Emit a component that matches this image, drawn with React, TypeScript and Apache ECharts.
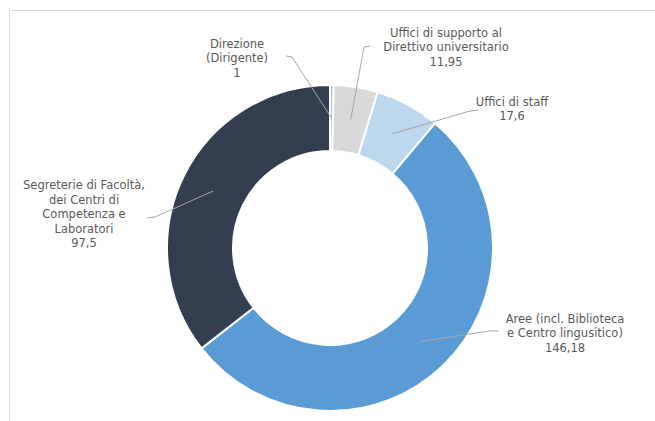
import React, { useEffect, useRef } from "react";
import * as echarts from "echarts";

const categories = [
  "Direzione\n(Dirigente)",
  "Uffici di supporto al\nDirettivo universitario",
  "Uffici di staff",
  "Aree (incl. Biblioteca\ne Centro lingusitico)",
  "Segreterie di Facoltà,\ndei Centri di\nCompetenza e\nLaboratori",
];
const values = [1, 11.95, 17.6, 146.18, 97.5];
const valueLabels = ["1", "11,95", "17,6", "146,18", "97,5"];
const colors = ["#9dc3e6", "#d9d9d9", "#bdd7ee", "#5b9bd5", "#333f50"];

// label placement (layout only)
const labelPos: [number, number][] = [
  [237, 58],
  [446, 47],
  [512, 109],
  [565, 333],
  [84, 214],
];
const lineStart: [number, number][] = [
  [286, 56],
  [370, 46],
  [478, 110],
  [498, 331],
  [147, 218],
];
const lineKnee: [number, number][] = [
  [292, 57],
  [364, 47],
  [470, 111],
  [489, 331],
  [155, 217],
];

const CX = 330;
const CY = 248;
const R_IN = 97;
const R_OUT = 163;

export default function App() {
  const ref = useRef<HTMLDivElement>(null);
  useEffect(() => {
    if (!ref.current) return;
    const chart = echarts.init(ref.current, null, { renderer: "svg" });
    const total = values.reduce((a, b) => a + b, 0);
    const anchors: [number, number][] = [];
    let cum = 0;
    values.forEach((v) => {
      const mid = ((cum + v / 2) / total) * Math.PI * 2;
      cum += v;
      const r = (R_IN + R_OUT) / 2;
      anchors.push([CX + r * Math.sin(mid), CY - r * Math.cos(mid)]);
    });
    const leaders = values.map((_, i) => ({
      type: "polyline",
      z: 100,
      silent: true,
      shape: { points: [lineStart[i], lineKnee[i], anchors[i]] },
      style: { fill: "none", stroke: "#a6a6a6", lineWidth: 1 },
    }));
    chart.setOption({
      animation: false,
      backgroundColor: "#ffffff",
      graphic: [
        {
          type: "rect",
          shape: { x: 9.5, y: 10.5, width: 700, height: 500 },
          style: { fill: "none", stroke: "#d9d9d9", lineWidth: 1 },
          silent: true,
        },
        ...leaders,
      ],
      series: [
        {
          type: "pie",
          center: [CX, CY],
          radius: [R_IN, R_OUT],
          startAngle: 90,
          clockwise: true,
          avoidLabelOverlap: false,
          itemStyle: { borderColor: "#ffffff", borderWidth: 2 },
          label: {
            show: true,
            position: "outside",
            color: "#595959",
            fontFamily: "DejaVu Sans, sans-serif",
            fontSize: 11.5,
            lineHeight: 14.5,
            align: "center",
            formatter: (p: any) =>
              categories[p.dataIndex] + "\n" + valueLabels[p.dataIndex],
          },
          labelLine: { show: false },
          labelLayout: (p: any) => {
            const i = p.dataIndex;
            return {
              x: labelPos[i][0],
              y: labelPos[i][1],
              align: "center",
              verticalAlign: "middle",
            };
          },
          data: values.map((v, i) => ({
            value: v,
            name: categories[i],
            itemStyle: { color: colors[i] },
          })),
        },
      ],
    });
    return () => chart.dispose();
  }, []);
  return (
    <div
      ref={ref}
      style={{ position: "fixed", left: 0, top: 0, width: 655, height: 421 }}
    />
  );
}
